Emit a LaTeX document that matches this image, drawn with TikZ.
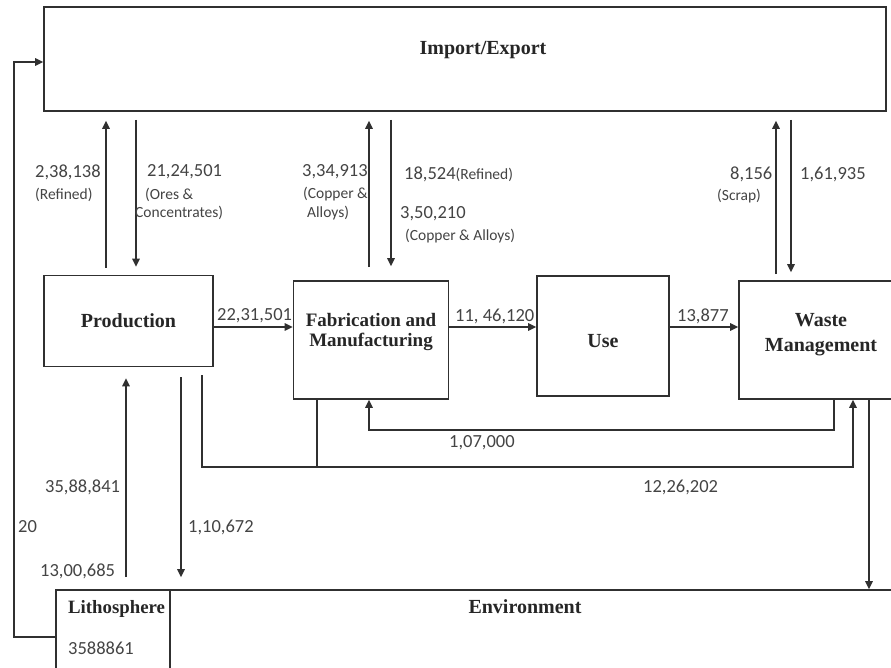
\documentclass[tikz,border=0pt]{standalone}
\usepackage{fontspec}
\setmainfont{Liberation Serif}
\newfontfamily\numfont{Carlito}
\usetikzlibrary{arrows.meta}
\definecolor{ln}{HTML}{303030}
\definecolor{tx}{HTML}{444444}
\begin{document}
\begin{tikzpicture}[x=1pt,y=-1pt,
  box/.style={draw=ln, line width=1.7pt, inner sep=0pt, rectangle},
  ttl/.style={font=\fontsize{20}{20}\selectfont\bfseries, text=black!85, align=center, inner sep=0pt},
  num/.style={font=\numfont\fontsize{18.5}{20}\selectfont, text=tx, anchor=west, inner sep=0pt},
  sml/.style={font=\numfont\fontsize{15.5}{16}\selectfont, text=tx, anchor=west, inner sep=0pt},
  flow/.style={draw=ln, line width=1.5pt, -{Triangle[length=8pt,width=7.5pt]}},
  wire/.style={draw=ln, line width=1.5pt}]
\useasboundingbox (0,0) rectangle (891,667);
\clip (0,0) rectangle (891,667);
\fill[white] (0,0) rectangle (891,667);

% boxes
\node[box, minimum width=842pt, minimum height=104pt] (imp) at (465,59) {};
\node[ttl] (impt) at (483,50) {Import/Export};
\node[box, ttl, minimum width=169pt, minimum height=91pt] (prod) at (128.5,321) {Production};
\node[box, minimum width=155pt, minimum height=118pt] (fab) at (371,340) {};
\node[ttl, font=\fontsize{19}{20}\selectfont\bfseries] (fabt) at (371,332) {Fabrication and\\Manufacturing};
\node[box, minimum width=132pt, minimum height=120pt] (use) at (603,336) {};
\node[ttl] (uset) at (603,341) {Use};
\node[box, minimum width=161pt, minimum height=118pt] (waste) at (819.5,340) {};
\node[ttl] (wastet) at (821,335) {Waste\\[5pt]Management};
\node[box, minimum width=730pt, minimum height=110pt] (env) at (535,645) {};
\node[ttl] (envt) at (525,607) {Environment};
\node[box, minimum width=114pt, minimum height=110pt] (lith) at (113,645) {};
\node[ttl, anchor=west, font=\fontsize{18.8}{20}\selectfont\bfseries] (litht) at (68,609) {Lithosphere};
\node[num] (lithn) at (68,648) {3588861};

% Production <-> Import/Export
\draw[flow, shorten <=7pt, shorten >=9pt] (prod.north -| 106,0) -- (imp.south -| 106,0);
\draw[flow, shorten <=8pt, shorten >=8pt] (imp.south -| 136,0) -- (prod.north -| 136,0);
% Fabrication <-> Import/Export
\draw[flow, shorten <=13pt, shorten >=9pt] (fab.north -| 369,0) -- (imp.south -| 369,0);
\draw[flow, shorten <=8pt, shorten >=14pt] (imp.south -| 391,0) -- (fab.north -| 391,0);
% Waste <-> Import/Export
\draw[flow, shorten <=6pt, shorten >=9pt] (waste.north -| 776,0) -- (imp.south -| 776,0);
\draw[flow, shorten <=8pt, shorten >=8pt] (imp.south -| 791,0) -- (waste.north -| 791,0);

% main chain
\draw[flow] (prod.east |- 0,327) -- (fab.west |- 0,327);
\draw[flow] (fab.east |- 0,327) -- (use.west |- 0,327);
\draw[flow] (use.east |- 0,327) -- (waste.west |- 0,327);

% Waste -> Fabrication
\draw[flow] (waste.south -| 834,0) -- ++(0,30) -| (fab.south -| 369,0);
% Production / Fabrication -> Waste
\coordinate (j) at (317,467);
\draw[flow, shorten <=8pt] (prod.south -| 202,0) |- (j) -| (waste.south -| 853,0);
\draw[wire] (fab.south -| j) -- (j);

% Lithosphere -> Production, Production -> Environment
\draw[flow, shorten <=12pt, shorten >=11pt] (lith.north -| 126,0) -- (prod.south -| 126,0);
\draw[flow, shorten <=10pt, shorten >=12pt] (prod.south -| 181,0) -- (env.north -| 181,0);
% Waste -> Environment
\draw[flow] (waste.south -| 869,0) -- (env.north -| 869,0);
% Lithosphere -> Import/Export
\coordinate (fb) at (14,637);
\draw[flow] (lith.west |- fb) -- (fb) |- (imp.west |- 0,62);

% labels
\node[num] (l1) at (35,172) {2,38,138};
\node[sml] (l1b) at (35,195) {(Refined)};
\node[num] (l2) at (147,172) {21,24,501};
\node[sml] (l2b) at (145,195) {(Ores \&};
\node[sml] (l2c) at (135,213) {Concentrates)};
\node[num] (l3) at (302,172) {3,34,913};
\node[sml] (l3b) at (303,194) {(Copper \&};
\node[sml] (l3c) at (307,213) {Alloys)};
\node[num] (l4) at (404,174) {18,524{\fontsize{15.5}{16}\selectfont(Refined)}};
\node[num] (l5) at (400,214) {3,50,210};
\node[sml] (l5b) at (405,236) {(Copper \& Alloys)};
\node[num] (l6) at (730,174) {8,156};
\node[sml] (l6b) at (717,196) {(Scrap)};
\node[num] (l7) at (800,174) {1,61,935};
\node[num] (l8) at (217,316) {22,31,501};
\node[num] (l9) at (455,316) {11, 46,120};
\node[num] (l10) at (677,316) {13,877};
\node[num] (l11) at (449,443) {1,07,000};
\node[num] (l12) at (643,487) {12,26,202};
\node[num] (l13) at (45,487) {35,88,841};
\node[num] (l14) at (40,571) {13,00,685};
\node[num] (l15) at (18,527) {20};
\node[num] (l16) at (188,527) {1,10,672};
\end{tikzpicture}
\end{document}
